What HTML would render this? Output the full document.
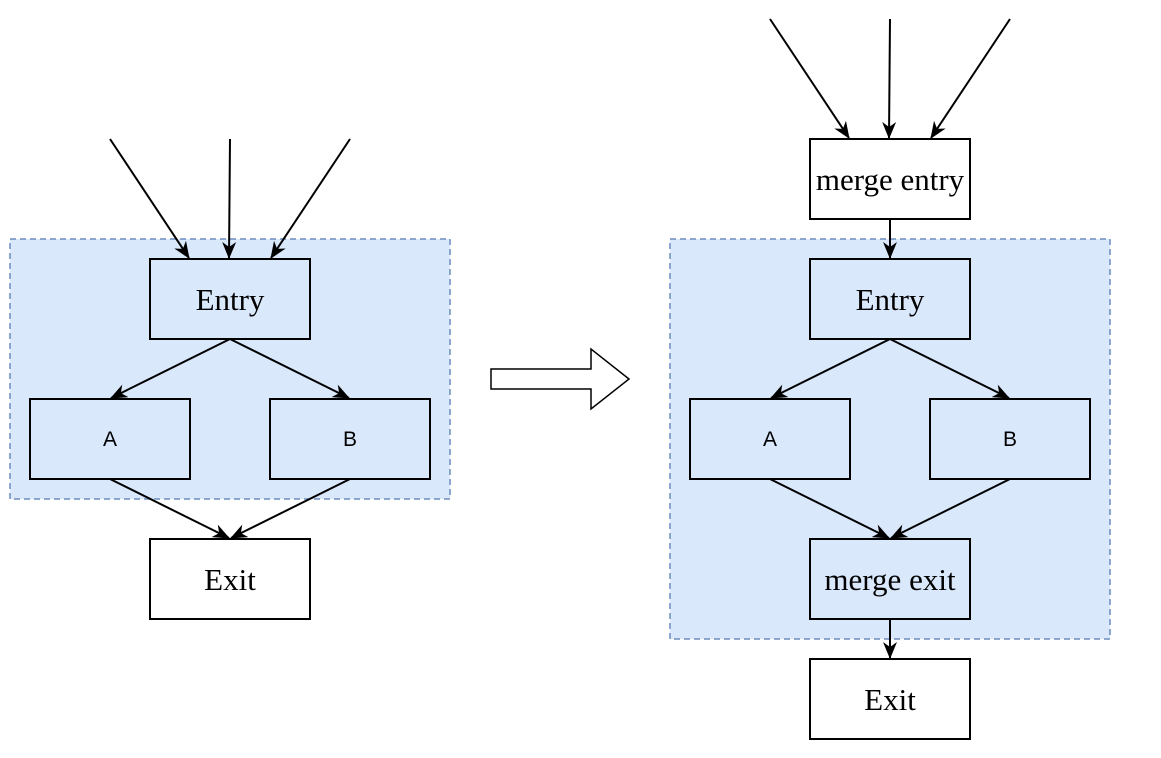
<!DOCTYPE html>
<html><head><meta charset="utf-8"><style>
html,body{margin:0;padding:0;background:#fff;}
svg{display:block;}
.s{font-family:"Liberation Serif",serif;font-size:31px;}
.a{font-family:"Liberation Sans",sans-serif;font-size:21px;}
</style></head><body>
<svg width="1161" height="758" viewBox="0 0 1161 758" xmlns="http://www.w3.org/2000/svg">
<defs>
<marker id="m" markerUnits="userSpaceOnUse" markerWidth="17" markerHeight="14" refX="16" refY="7" orient="auto">
<path d="M0,0 L17,7 L0,14 L5,7 z" fill="#000"/>
</marker>
</defs>
<g fill="none" stroke="#000" stroke-width="2">
<rect x="10" y="239" width="440" height="260" fill="#dae8fc" stroke="#6c8ebf" stroke-dasharray="6,4" stroke-width="1.5"/>
<rect x="150" y="259" width="160" height="80" fill="#dae8fc"/>
<rect x="30" y="399" width="160" height="80" fill="#dae8fc"/>
<rect x="270" y="399" width="160" height="80" fill="#dae8fc"/>
<rect x="150" y="539" width="160" height="80" fill="#fff"/>
<line x1="110" y1="139" x2="189" y2="258" marker-end="url(#m)"/>
<line x1="230" y1="139" x2="229" y2="258" marker-end="url(#m)"/>
<line x1="350" y1="139" x2="271" y2="258" marker-end="url(#m)"/>
<line x1="230" y1="339" x2="111" y2="398" marker-end="url(#m)"/>
<line x1="230" y1="339" x2="349" y2="398" marker-end="url(#m)"/>
<line x1="110" y1="479" x2="229" y2="538" marker-end="url(#m)"/>
<line x1="350" y1="479" x2="231" y2="538" marker-end="url(#m)"/>
<polygon points="491,369 591,369 591,349 629,379 591,409 591,389 491,389" fill="#fff" stroke-width="1.5"/>
<rect x="670" y="239" width="440" height="400" fill="#dae8fc" stroke="#6c8ebf" stroke-dasharray="6,4" stroke-width="1.5"/>
<rect x="810" y="139" width="160" height="80" fill="#fff"/>
<rect x="810" y="259" width="160" height="80" fill="#dae8fc"/>
<rect x="690" y="399" width="160" height="80" fill="#dae8fc"/>
<rect x="930" y="399" width="160" height="80" fill="#dae8fc"/>
<rect x="810" y="539" width="160" height="80" fill="#dae8fc"/>
<rect x="810" y="659" width="160" height="80" fill="#fff"/>
<line x1="770" y1="19" x2="849" y2="138" marker-end="url(#m)"/>
<line x1="890" y1="19" x2="889" y2="138" marker-end="url(#m)"/>
<line x1="1010" y1="19" x2="931" y2="138" marker-end="url(#m)"/>
<line x1="890" y1="219" x2="890" y2="258" marker-end="url(#m)"/>
<line x1="890" y1="339" x2="771" y2="398" marker-end="url(#m)"/>
<line x1="890" y1="339" x2="1009" y2="398" marker-end="url(#m)"/>
<line x1="770" y1="479" x2="889" y2="538" marker-end="url(#m)"/>
<line x1="1010" y1="479" x2="891" y2="538" marker-end="url(#m)"/>
<line x1="890" y1="619" x2="890" y2="658" marker-end="url(#m)"/>
</g>
<g text-anchor="middle" fill="#000">
<text class="s" x="230" y="310">Entry</text>
<text class="a" x="110" y="446">A</text>
<text class="a" x="350" y="446">B</text>
<text class="s" x="230" y="590">Exit</text>
<text class="s" x="890" y="190">merge entry</text>
<text class="s" x="890" y="310">Entry</text>
<text class="a" x="770" y="446">A</text>
<text class="a" x="1010" y="446">B</text>
<text class="s" x="890" y="590">merge exit</text>
<text class="s" x="890" y="710">Exit</text>
</g>
</svg>
</body></html>
